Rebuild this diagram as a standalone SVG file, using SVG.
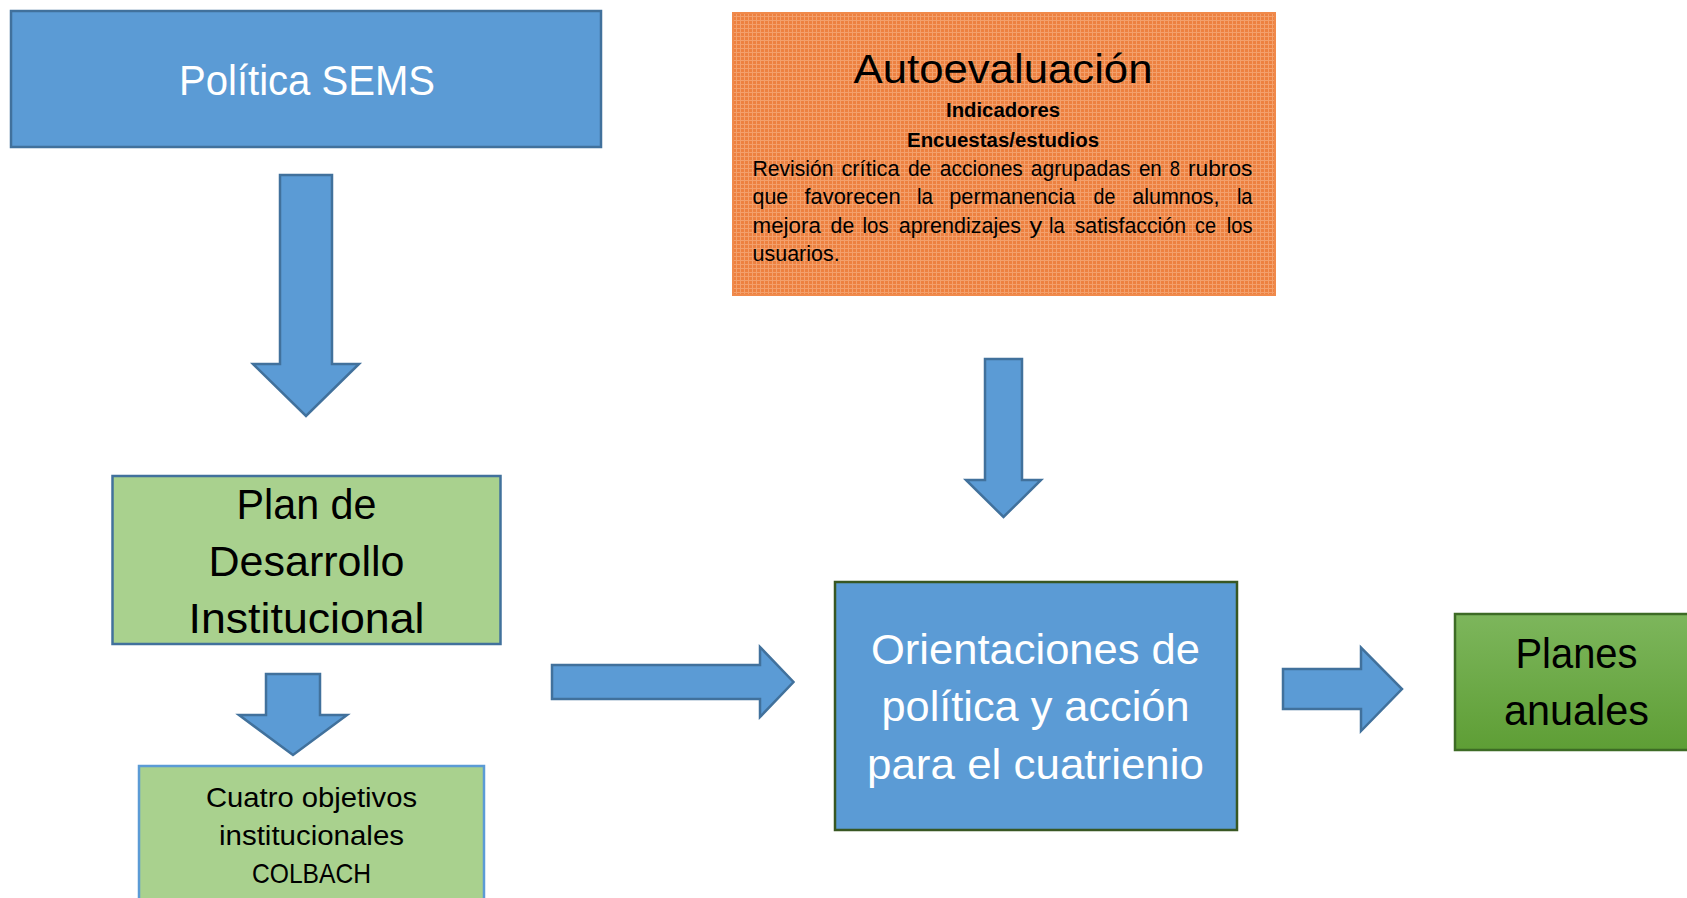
<svg xmlns="http://www.w3.org/2000/svg" width="1687" height="898" viewBox="0 0 1687 898">
<style>
  .t { font-family: "Liberation Sans", Arial, sans-serif; text-anchor: middle; }
  .w { fill: #ffffff; }
  .k { fill: #000000; }
  .big { font-size: 42px; }
  .p { font-family: "Liberation Sans", Arial, sans-serif; font-size: 21.5px; fill: #000; }
  .arrow { fill: #5B9BD5; stroke: #41719C; stroke-width: 2.5; stroke-linejoin: miter; }
</style>
<defs>
  <pattern id="dots" width="4" height="4" patternUnits="userSpaceOnUse">
    <rect width="4" height="4" fill="#ED8140"/>
    <rect x="0" y="0" width="4" height="1" fill="#F3A06C"/>
    <rect x="0" y="0" width="1" height="4" fill="#F3A06C"/>
  </pattern>
  <linearGradient id="gg" x1="0" y1="0" x2="0" y2="1">
    <stop offset="0" stop-color="#7DB65C"/>
    <stop offset="1" stop-color="#5E9E35"/>
  </linearGradient>
</defs>
<rect width="1687" height="898" fill="#ffffff"/>

<g id="connectors">
  <polygon class="arrow" points="280,175 332,175 332,364 359,364 306,416 253,364 280,364"/>
  <polygon class="arrow" points="266,674 320,674 320,715 347,715 293,755 239,715 266,715"/>
  <polygon class="arrow" points="985,359 1022,359 1022,480 1041,480 1003.5,517 966,480 985,480"/>
  <polygon class="arrow" points="552,665 760,665 760,647 793.5,682 760,717 760,699 552,699"/>
  <polygon class="arrow" points="1283,669 1361,669 1361,647.5 1402,689 1361,731 1361,709 1283,709"/>
</g>

<g id="politica-sems">
  <rect x="11" y="11" width="590" height="136" fill="#5B9BD5" stroke="#41719C" stroke-width="2.5"/>
  <text class="t w big" x="307" y="95" textLength="256" lengthAdjust="spacingAndGlyphs">Política SEMS</text>
</g>

<g id="autoevaluacion">
  <rect x="733" y="13" width="542" height="282" fill="url(#dots)" stroke="#F08A4C" stroke-width="2"/>
  <text class="t k" x="1003" y="82.5" font-size="41" textLength="299" lengthAdjust="spacingAndGlyphs">Autoevaluación</text>
  <text class="t k" x="1003" y="117" font-size="20" font-weight="bold" textLength="114" lengthAdjust="spacingAndGlyphs">Indicadores</text>
  <text class="t k" x="1003" y="146.5" font-size="20" font-weight="bold" textLength="192" lengthAdjust="spacingAndGlyphs">Encuestas/estudios</text>

  <text class="p" x="752.6" y="175.7" textLength="80.9" lengthAdjust="spacingAndGlyphs">Revisión</text>
  <text class="p" x="841.5" y="175.7" textLength="58" lengthAdjust="spacingAndGlyphs">crítica</text>
  <text class="p" x="907.9" y="175.7" textLength="23.2" lengthAdjust="spacingAndGlyphs">de</text>
  <text class="p" x="939.8" y="175.7" textLength="83.1" lengthAdjust="spacingAndGlyphs">acciones</text>
  <text class="p" x="1030.8" y="175.7" textLength="99.7" lengthAdjust="spacingAndGlyphs">agrupadas</text>
  <text class="p" x="1138.9" y="175.7" textLength="22.9" lengthAdjust="spacingAndGlyphs">en</text>
  <text class="p" x="1169.7" y="175.7" textLength="10.2" lengthAdjust="spacingAndGlyphs">8</text>
  <text class="p" x="1187.9" y="175.7" textLength="64.6" lengthAdjust="spacingAndGlyphs">rubros</text>

  <text class="p" x="752.6" y="204" textLength="35.5" lengthAdjust="spacingAndGlyphs">que</text>
  <text class="p" x="804.5" y="204" textLength="96.1" lengthAdjust="spacingAndGlyphs">favorecen</text>
  <text class="p" x="916.9" y="204" textLength="16" lengthAdjust="spacingAndGlyphs">la</text>
  <text class="p" x="949.2" y="204" textLength="126.2" lengthAdjust="spacingAndGlyphs">permanencia</text>
  <text class="p" x="1093.6" y="204" textLength="21.8" lengthAdjust="spacingAndGlyphs">de</text>
  <text class="p" x="1132.2" y="204" textLength="87.4" lengthAdjust="spacingAndGlyphs">alumnos,</text>
  <text class="p" x="1236.9" y="204" textLength="15.6" lengthAdjust="spacingAndGlyphs">la</text>

  <text class="p" x="752.6" y="233.3" textLength="68.2" lengthAdjust="spacingAndGlyphs">mejora</text>
  <text class="p" x="830.6" y="233.3" textLength="23.6" lengthAdjust="spacingAndGlyphs">de</text>
  <text class="p" x="862.5" y="233.3" textLength="26.1" lengthAdjust="spacingAndGlyphs">los</text>
  <text class="p" x="898.8" y="233.3" textLength="122.2" lengthAdjust="spacingAndGlyphs">aprendizajes</text>
  <text class="p" x="1029.4" y="233.3" textLength="12.7" lengthAdjust="spacingAndGlyphs">y</text>
  <text class="p" x="1049" y="233.3" textLength="15.6" lengthAdjust="spacingAndGlyphs">la</text>
  <text class="p" x="1074.7" y="233.3" textLength="111.4" lengthAdjust="spacingAndGlyphs">satisfacción</text>
  <text class="p" x="1195.1" y="233.3" textLength="21" lengthAdjust="spacingAndGlyphs">ce</text>
  <text class="p" x="1226.7" y="233.3" textLength="25.8" lengthAdjust="spacingAndGlyphs">los</text>

  <text class="p" x="752.6" y="260.7" textLength="87" lengthAdjust="spacingAndGlyphs">usuarios.</text>
</g>

<g id="plan-desarrollo">
  <rect x="112.5" y="476" width="388" height="168" fill="#A9D18E" stroke="#41719C" stroke-width="2.5"/>
  <text class="t k big" x="306.5" y="519" textLength="140" lengthAdjust="spacingAndGlyphs">Plan de</text>
  <text class="t k big" x="306.5" y="576" textLength="196" lengthAdjust="spacingAndGlyphs">Desarrollo</text>
  <text class="t k big" x="306.5" y="633" textLength="236" lengthAdjust="spacingAndGlyphs">Institucional</text>
</g>

<g id="cuatro-objetivos">
  <rect x="139" y="766" width="345" height="150" fill="#A9D18E" stroke="#5B9BD5" stroke-width="2.5"/>
  <text class="t k" x="311.5" y="807" font-size="27.5" textLength="211" lengthAdjust="spacingAndGlyphs">Cuatro objetivos</text>
  <text class="t k" x="311.5" y="845" font-size="27.5" textLength="185" lengthAdjust="spacingAndGlyphs">institucionales</text>
  <text class="t k" x="311.5" y="883" font-size="27.5" textLength="119" lengthAdjust="spacingAndGlyphs">COLBACH</text>
</g>

<g id="orientaciones">
  <rect x="835" y="582" width="402" height="248" fill="#5B9BD5" stroke="#385723" stroke-width="2.5"/>
  <text class="t w big" x="1035.5" y="664" textLength="329" lengthAdjust="spacingAndGlyphs">Orientaciones de</text>
  <text class="t w big" x="1035.5" y="721" textLength="308" lengthAdjust="spacingAndGlyphs">política y acción</text>
  <text class="t w big" x="1035.5" y="779" textLength="337" lengthAdjust="spacingAndGlyphs">para el cuatrienio</text>
</g>

<g id="planes-anuales">
  <rect x="1455" y="614" width="260" height="136" fill="url(#gg)" stroke="#3D6B25" stroke-width="2.5"/>
  <text class="t k big" x="1576.5" y="668" textLength="122" lengthAdjust="spacingAndGlyphs">Planes</text>
  <text class="t k big" x="1576.5" y="725" textLength="145" lengthAdjust="spacingAndGlyphs">anuales</text>
</g>
</svg>
